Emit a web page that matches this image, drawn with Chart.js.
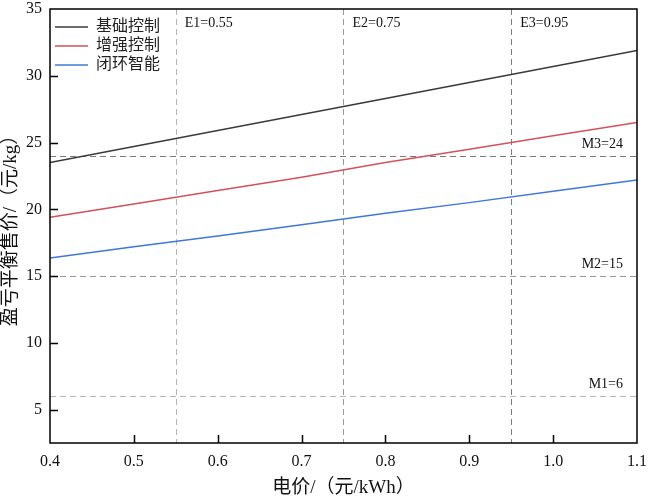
<!DOCTYPE html>
<html><head><meta charset="utf-8">
<script src="https://cdn.jsdelivr.net/npm/chart.js@4/dist/chart.umd.min.js"></script>
<style>html,body{margin:0;padding:0;background:#fff;}</style>
</head><body>
<canvas id="c" width="650" height="498"></canvas>
<script>
const prices = [0.4, 0.5, 0.6, 0.7, 0.8, 0.9, 1.0, 1.1];
const basicCtrl = [23.5, 24.7, 25.9, 27.1, 28.3, 29.5, 30.7, 31.9];
const enhancedCtrl = [19.4, 20.4, 21.4, 22.4, 23.5, 24.5, 25.5, 26.5];
const closedLoop = [16.35, 17.2, 18.0, 18.85, 19.7, 20.5, 21.35, 22.2];
const seriesNames = ['基础控制', '增强控制', '闭环智能'];
const seriesColors = ['#3a3a3a', '#d4505a', '#3f78d6'];
const xTicks = [0.4, 0.5, 0.6, 0.7, 0.8, 0.9, 1.0, 1.1];
const yTicks = [5, 10, 15, 20, 25, 30, 35];
const eValues = [0.55, 0.75, 0.95];
const eLabels = ['E1=0.55', 'E2=0.75', 'E3=0.95'];
const eColors = ['#b4b4b4', '#9a9a9a', '#7e7e7e'];
const mValues = [6, 15, 24];
const mLabels = ['M1=6', 'M2=15', 'M3=24'];
const mColors = ['#b4b4b4', '#9a9a9a', '#7a7a7a'];
const xTitle = '电价/（元/kWh）';
const yTitle = '盈亏平衡售价/（元/kg）';

const SERIF = '"Liberation Serif", "Noto Sans CJK SC", serif';

function toPts(vals) { return prices.map((p, i) => ({x: p, y: vals[i]})); }

const refPlugin = {
  id: 'refs',
  beforeDatasetsDraw(chart) {
    const {ctx, chartArea: a, scales: {x, y}} = chart;
    ctx.save();
    ctx.lineWidth = 1;
    ctx.setLineDash([6, 4]);
    eValues.forEach((v, i) => {
      const px = Math.round(x.getPixelForValue(v)) + 0.5;
      ctx.strokeStyle = eColors[i];
      ctx.beginPath(); ctx.moveTo(px, a.top); ctx.lineTo(px, a.bottom); ctx.stroke();
    });
    mValues.forEach((v, i) => {
      const py = Math.round(y.getPixelForValue(v)) + 0.5;
      ctx.strokeStyle = mColors[i];
      ctx.beginPath(); ctx.moveTo(a.left, py); ctx.lineTo(a.right, py); ctx.stroke();
    });
    ctx.setLineDash([]);
    ctx.fillStyle = '#111';
    ctx.font = '14px ' + SERIF;
    ctx.textBaseline = 'middle';
    ctx.textAlign = 'left';
    eValues.forEach((v, i) => {
      ctx.fillText(eLabels[i], x.getPixelForValue(v) + 9, a.top + 14);
    });
    ctx.textAlign = 'right';
    mValues.forEach((v, i) => {
      ctx.fillText(mLabels[i], a.right - 14, y.getPixelForValue(v) - 12);
    });
    ctx.restore();
  },
  afterDraw(chart) {
    const {ctx, chartArea: a, scales: {x, y}} = chart;
    ctx.save();
    ctx.strokeStyle = '#000';
    ctx.lineWidth = 1.5;
    ctx.strokeRect(a.left, a.top, a.right - a.left, a.bottom - a.top);
    ctx.beginPath();
    xTicks.slice(1, -1).forEach(v => {
      const px = Math.round(x.getPixelForValue(v)) + 0.5;
      ctx.moveTo(px, a.bottom); ctx.lineTo(px, a.bottom - 8);
    });
    yTicks.slice(0, -1).forEach(v => {
      const py = Math.round(y.getPixelForValue(v)) + 0.5;
      ctx.moveTo(a.left, py); ctx.lineTo(a.left + 8, py);
    });
    ctx.stroke();
    // legend
    ctx.font = '16px ' + SERIF;
    ctx.textBaseline = 'middle';
    ctx.textAlign = 'left';
    chart.data.datasets.forEach((ds, i) => {
      const yy = a.top + 18 + i * 19;
      ctx.strokeStyle = ds.borderColor;
      ctx.lineWidth = 1.5;
      ctx.beginPath(); ctx.moveTo(a.left + 5, yy); ctx.lineTo(a.left + 38, yy); ctx.stroke();
      ctx.fillStyle = '#222';
      ctx.fillText(ds.label, a.left + 46, yy);
    });
    ctx.restore();
  }
};

new Chart(document.getElementById('c'), {
  type: 'line',
  data: {
    datasets: [
      {label: seriesNames[0], data: toPts(basicCtrl), borderColor: seriesColors[0]},
      {label: seriesNames[1], data: toPts(enhancedCtrl), borderColor: seriesColors[1]},
      {label: seriesNames[2], data: toPts(closedLoop), borderColor: seriesColors[2]}
    ].map(d => Object.assign(d, {borderWidth: 1.5, pointRadius: 0, tension: 0, fill: false}))
  },
  options: {
    responsive: false,
    animation: false,
    layout: {padding: {top: 9, right: 13, left: 0, bottom: 0}},
    plugins: {legend: {display: false}, tooltip: {enabled: false}},
    scales: {
      x: {
        type: 'linear', min: 0.4, max: 1.1,
        afterBuildTicks: s => { s.ticks = xTicks.map(v => ({value: v})); },
        afterFit: s => { s.height = 55; s.paddingLeft = 0; s.paddingRight = 0; },
        grid: {display: false, drawTicks: false},
        border: {display: false},
        ticks: {color: '#111', font: {family: SERIF, size: 16}, padding: 9,
                maxRotation: 0, autoSkip: false, callback: v => Number(v).toFixed(1)},
        title: {display: true, text: xTitle, color: '#111',
                font: {family: SERIF, size: 19, lineHeight: 1}, padding: {top: 0, bottom: 0}}
      },
      y: {
        type: 'linear', min: 2.5, max: 35,
        afterBuildTicks: s => { s.ticks = yTicks.map(v => ({value: v})); },
        afterFit: s => { s.width = 50; s.paddingTop = 0; s.paddingBottom = 0; },
        grid: {display: false, drawTicks: false},
        border: {display: false},
        ticks: {color: '#111', font: {family: SERIF, size: 16}, padding: 8,
                autoSkip: false, callback: v => String(v)},
        title: {display: true, text: yTitle, color: '#111',
                font: {family: SERIF, size: 19, lineHeight: 1}, padding: {top: 2, bottom: 0}}
      }
    }
  },
  plugins: [refPlugin]
});
</script>
</body></html>
